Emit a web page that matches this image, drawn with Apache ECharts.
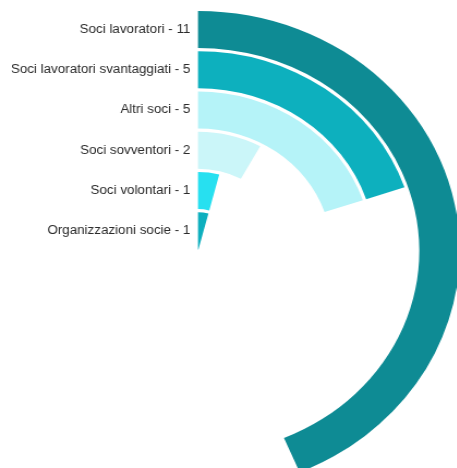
<!DOCTYPE html>
<html>
<head>
<meta charset="utf-8">
<script src="https://cdn.jsdelivr.net/npm/echarts@6/dist/echarts.min.js"></script>
<style>
  html, body { margin: 0; padding: 0; background: #ffffff; overflow: hidden; }
  #wrap { width: 457px; height: 468px; overflow: hidden; }
  /* the chart is laid out a little narrower and widened to fill the frame */
  #chart { width: 419.3px; height: 468px; transform: scaleX(1.09); transform-origin: 0 0; }
</style>
</head>
<body>
<div id="wrap"><div id="chart"></div></div>
<script>
// Member groups, listed from the innermost ring to the outermost
const categories = [
  'Organizzazioni socie',
  'Soci volontari',
  'Soci sovventori',
  'Altri soci',
  'Soci lavoratori svantaggiati',
  'Soci lavoratori'
];
const values = [1, 1, 2, 5, 5, 11];
const ringColors = ['#0DAFBE', '#27E0F0', '#CBF6F9', '#B5F3F8', '#0DB0BE', '#0E8B94'];

const axisLabels = categories.map((c, i) => c + ' - ' + values[i]);

const chart = echarts.init(document.getElementById('chart'), null, { renderer: 'canvas' });

chart.setOption({
  animation: false,
  backgroundColor: '#ffffff',
  polar: {
    center: [181.65, 251],
    radius: [0, 241.7]
  },
  angleAxis: {
    type: 'value',
    startAngle: 90,
    clockwise: true,
    min: 0,
    max: 25.2,
    show: false
  },
  radiusAxis: {
    type: 'category',
    data: axisLabels,
    axisLine: { show: false },
    axisTick: { show: false },
    splitLine: { show: false },
    axisLabel: {
      interval: 0,
      color: '#2b2b2b',
      fontSize: 12.3,
      fontFamily: 'Liberation Sans, Arial, sans-serif',
      margin: 7
    },
    z: 10
  },
  series: [{
    type: 'bar',
    coordinateSystem: 'polar',
    barCategoryGap: '8%',
    data: values.map((v, i) => ({ value: v, itemStyle: { color: ringColors[i] } }))
  }]
});
</script>
</body>
</html>
